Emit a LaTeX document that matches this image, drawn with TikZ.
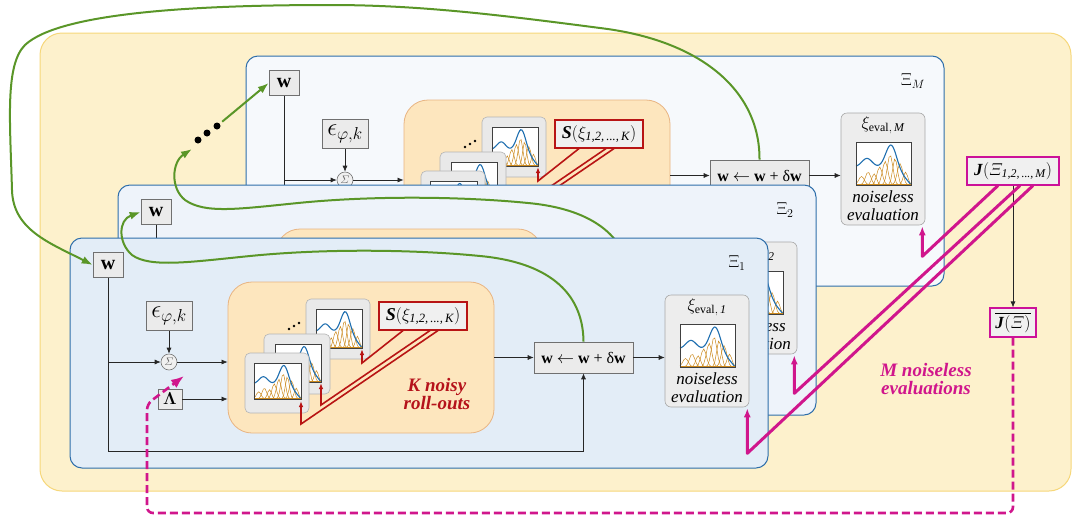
\documentclass[tikz,border=0pt]{standalone}
\usepackage{amsmath,bm}
\usepackage{fontspec}
\setmainfont{Liberation Serif}
\usetikzlibrary{arrows.meta,calc}

\definecolor{bgY}{HTML}{FDF1CC}
\definecolor{bgYd}{HTML}{F6D77A}
\definecolor{pnB}{HTML}{2E6EAA}
\definecolor{pn1}{HTML}{E3EDF7}
\definecolor{pn2}{HTML}{EEF3FA}
\definecolor{pnM}{HTML}{F6F9FC}
\definecolor{roF}{HTML}{FDE6BE}
\definecolor{roB}{HTML}{E8B482}
\definecolor{bxF}{HTML}{EBEBEB}
\definecolor{bxB}{HTML}{707070}
\definecolor{frF}{HTML}{E9E9E9}
\definecolor{frB}{HTML}{B4B4B4}
\definecolor{evF}{HTML}{EDEDED}
\definecolor{evB}{HTML}{A8A8A8}
\definecolor{redL}{HTML}{B81414}
\definecolor{redT}{HTML}{B5121B}
\definecolor{magL}{HTML}{D0168C}
\definecolor{magB}{HTML}{CC1199}
\definecolor{grnL}{HTML}{5A9628}
\definecolor{bluC}{HTML}{1F6FB0}
\definecolor{orgC}{HTML}{CC8A1E}

\newcommand\myfs[1]{\fontsize{#1}{#1}\selectfont}

\pgfmathdeclarefunction{gs}{3}{\begingroup\pgfmathparse{exp(-min(((#1-#2)/#3)*((#1-#2)/#3),9))}\pgfmathsmuggle\pgfmathresult\endgroup}

\newcommand\miniplot[4]{%
 \begin{scope}[shift={(#1,#2)},xscale=#3,yscale=-#4]
  \fill[white] (0,0) rectangle (1,1);
  \foreach \c/\h/\s in {0.1/0.2/0.07,0.22/0.3/0.07,0.33/0.26/0.06,0.43/0.42/0.07,0.53/0.55/0.07,0.62/0.7/0.07,0.71/0.62/0.06,0.8/0.5/0.07,0.9/0.3/0.06}
   {\draw[orgC,line width=0.5pt] plot[domain=0:1,samples=31] (\x,{\h*gs(\x,\c,\s)});}
  \draw[bluC,line width=1.1pt] plot[domain=0:1,samples=41,smooth] (\x,{0.42-0.42*\x*\x*\x*\x+0.2*gs(\x,0.2,0.13)+0.58*gs(\x,0.64,0.14)});
  \draw[orgC,line width=1.3pt] (0,0)--(1,0);
  \draw[black!75,line width=0.6pt] (0,0) rectangle (1,1);
 \end{scope}}

\newcommand\drawpanel[5]{%
\begin{scope}[shift={(#2,#3)}]
 \path[panel,fill=#4] (70,238) rectangle (768,468);
 \node[lbl] (X#1) at (737,263) {$\Xi_{#5}$};
 \node[gbox,minimum width=30pt,minimum height=25pt,font=\myfs{20}] (w#1) at (108,265) {\textbf{w}};
 \node[gbox,minimum width=46pt,minimum height=29pt,font=\myfs{24}] (e#1) at (169,316) {$\epsilon_{\varphi,k}$};
 \node[sumc] (s#1) at (169,362) {$\varSigma$};
 \node[gbox,minimum width=24pt,minimum height=20pt,font=\myfs{17}] (L#1) at (170,399) {$\bm{\Lambda}$};
 \node[rbox,minimum width=266pt,minimum height=151pt] (r#1) at (361,357.5) {};
 \path[frame] (306,299) rectangle (370,359);
 \miniplot{316}{348}{46}{39}
 \path[frame] (264,334) rectangle (330,394);
 \miniplot{275}{382}{46}{38}
 \path[frame] (245,353) rectangle (309,413);
 \miniplot{254}{399}{47}{36}
 \fill (289,329) circle (1.4pt) (294,326) circle (1.4pt) (299,323) circle (1.4pt);
 \node[sbox] (S#1) at (423,316) {\textbf{\textit{S}}$(\xi_{\textit{1,2,\,...,\,K}})$};
 \draw[rl] ([xshift=-20pt]S#1.south) -- (362,363) -- (362,349);
 \draw[rl] ([xshift=7pt]S#1.south) -- (321,405) -- (321,383);
 \draw[rl] ([xshift=15pt]S#1.south) -- (301,424) -- (301,401);
 \node[ubox] (u#1) at (583.5,357.5) {\textbf{w} $\leftarrow$ \textbf{w} + δ\textbf{w}};
 \node[evbox] (v#1) at (707,351) {};
 \node[evtitle] (vt#1) at (707,307) {$\xi_{\text{eval},\,\textit{#5}}$};
 \miniplot{680}{367}{55}{43}
 \node[evtext] (vn#1) at (707,388) {noiseless\\evaluation};
 \coordinate (b#1) at (108,451);
 \draw[cn,tip] (w#1.south) -- (b#1) -| (u#1.south);
 \draw[cn,tip] (w#1.south |- s#1.west) -- (s#1.west);
 \draw[cn,tip] (e#1.south) -- (s#1.north);
 \draw[cn,tip] (s#1.east) -- (s#1.east -| r#1.west);
 \draw[cn,tip] (L#1.east) -- (L#1.east -| r#1.west);
 \draw[cn,tip] (r#1.east |- u#1.west) -- (u#1.west);
 \draw[cn,tip] (u#1.east) -- (u#1.east -| v#1.west);
\end{scope}}

\begin{document}
\begin{tikzpicture}[x=1pt,y=-1pt,
  panel/.style={draw=pnB,line width=1pt,rounded corners=12pt},
  lbl/.style={font=\myfs{17},inner sep=0pt},
  gbox/.style={draw=bxB,fill=bxF,line width=0.6pt,inner sep=0pt},
  sumc/.style={circle,draw=black!55,fill=black!6,line width=0.6pt,minimum size=16pt,inner sep=0pt,font=\myfs{11},text=black!60},
  rbox/.style={draw=roB,fill=roF,line width=0.8pt,rounded corners=24pt,inner sep=0pt},
  frame/.style={draw=frB,fill=frF,line width=0.6pt,rounded corners=5pt},
  sbox/.style={draw=redL,fill=black!6,line width=1.1pt,minimum width=88pt,minimum height=28pt,inner sep=0pt,font=\myfs{18}},
  rl/.style={redL,line width=1.6pt,-{Latex[length=6pt,width=4.5pt]}},
  ubox/.style={gbox,minimum width=99pt,minimum height=31pt,font=\myfs{16}},
  evbox/.style={draw=evB,fill=evF,line width=0.6pt,rounded corners=6pt,minimum width=84pt,minimum height=112pt,inner sep=0pt},
  evtitle/.style={font=\myfs{17},inner sep=0pt},
  evtext/.style={font=\fontsize{17}{18}\selectfont\itshape,align=center,inner sep=0pt},
  cn/.style={black!85,line width=0.7pt},
  tip/.style={-{Latex[length=6pt,width=5pt]}},
  grn/.style={grnL,line width=2pt},
  gtip/.style={-{Latex[length=11pt,width=8pt]}},
  gdot/.style={circle,fill=black,minimum size=7pt,inner sep=0pt},
  jbox/.style={draw=magB,fill=black!6,line width=1.1pt,inner sep=0pt,font=\myfs{17}},
  mg/.style={magL,line width=3pt,line join=round,-{Latex[length=9pt,width=7pt]}},
  mgd/.style={magL,line width=2.6pt,dash pattern=on 8pt off 4pt,rounded corners=6pt,-{Latex[length=13pt,width=10pt]}},
  ktext/.style={font=\fontsize{19}{18}\selectfont\bfseries\itshape,align=center,inner sep=0pt}
]
\useasboundingbox (0,0) rectangle (1073,520);
\path[fill=bgY,draw=bgYd,line width=1pt,rounded corners=22pt] (40,33) rectangle (1071,491);

\drawpanel{M}{176}{-182}{pnM}{M}
\drawpanel{2}{48}{-53}{pn2}{2}

% feedback of panel 2 towards panel M
\coordinate (dA) at (192,149);
\draw[grn,gtip] (u2.north) .. controls (631,237) and (593,209) .. (528,203) .. controls (468,197) and (378,195) .. (298,203) .. controls (238,209) and (205,214) .. (185,200) .. controls (170,188) and (172,162) .. (dA);
\node[gdot] (g1) at (198,140) {};
\node[gdot] (g2) at (207,133) {};
\node[gdot] (g3) at (217,126) {};
\draw[grn,gtip,shorten <=3pt] (g3) -- (wM.west);

\drawpanel{1}{0}{0}{pn1}{1}

% feedback of panel 1 towards panel 2
\draw[grn,gtip] (u1.north) .. controls (583,290) and (545,262) .. (480,256) .. controls (420,250) and (330,248) .. (250,256) .. controls (190,262) and (150,268) .. (132,255) .. controls (118,243) and (118,220) .. (w2.west);
% feedback of panel M towards panel 1
\draw[grn,gtip] (uM.north) .. controls (760,90) and (700,40) .. (600,28) .. controls (500,15) and (420,5) .. (330,5) .. controls (200,5) and (60,12) .. (25,45) .. controls (5,65) and (10,120) .. (12,190) .. controls (13,230) and (50,243) .. (w1.west);

% cost boxes
\node[jbox,minimum width=92pt,minimum height=28pt] (J) at (1013,171) {\textbf{\textit{J}}$(\varXi_{\textit{1,2,\,...,\,M}})$};
\node[jbox,minimum width=46pt,minimum height=29pt] (Jb) at (1013,322.5) {$\overline{\text{\textbf{\textit{J}}}(\varXi)}$};
\draw[cn,tip] (J.south) -- (Jb.north);

\draw[mg] ([xshift=-15pt]J.south) -- ($(vM.south east)+(-3,31)$) -- ($(vM.south east)+(-3,1)$);
\draw[mg] ([xshift=7pt]J.south) -- ($(v2.south east)+(-3,39)$) -- ($(v2.south east)+(-3,1)$);
\draw[mg] ([xshift=20pt]J.south) -- ($(v1.south east)+(-2,46)$) -- ($(v1.south east)+(-2,1)$);

\coordinate (c1) at (1013,513);
\coordinate (c2) at (147,513);
\coordinate (c3) at (147,404);
\coordinate (c4) at (184,376);
\draw[mgd] (Jb.south) -- (c1) -- (c2) -- (c3) -- (c4);

\node[ktext,text=redT] (kt) at (437,394) {K noisy\\roll-outs};
\node[ktext,text=magL] (mt) at (926,379) {M noiseless\\evaluations};
\end{tikzpicture}
\end{document}
